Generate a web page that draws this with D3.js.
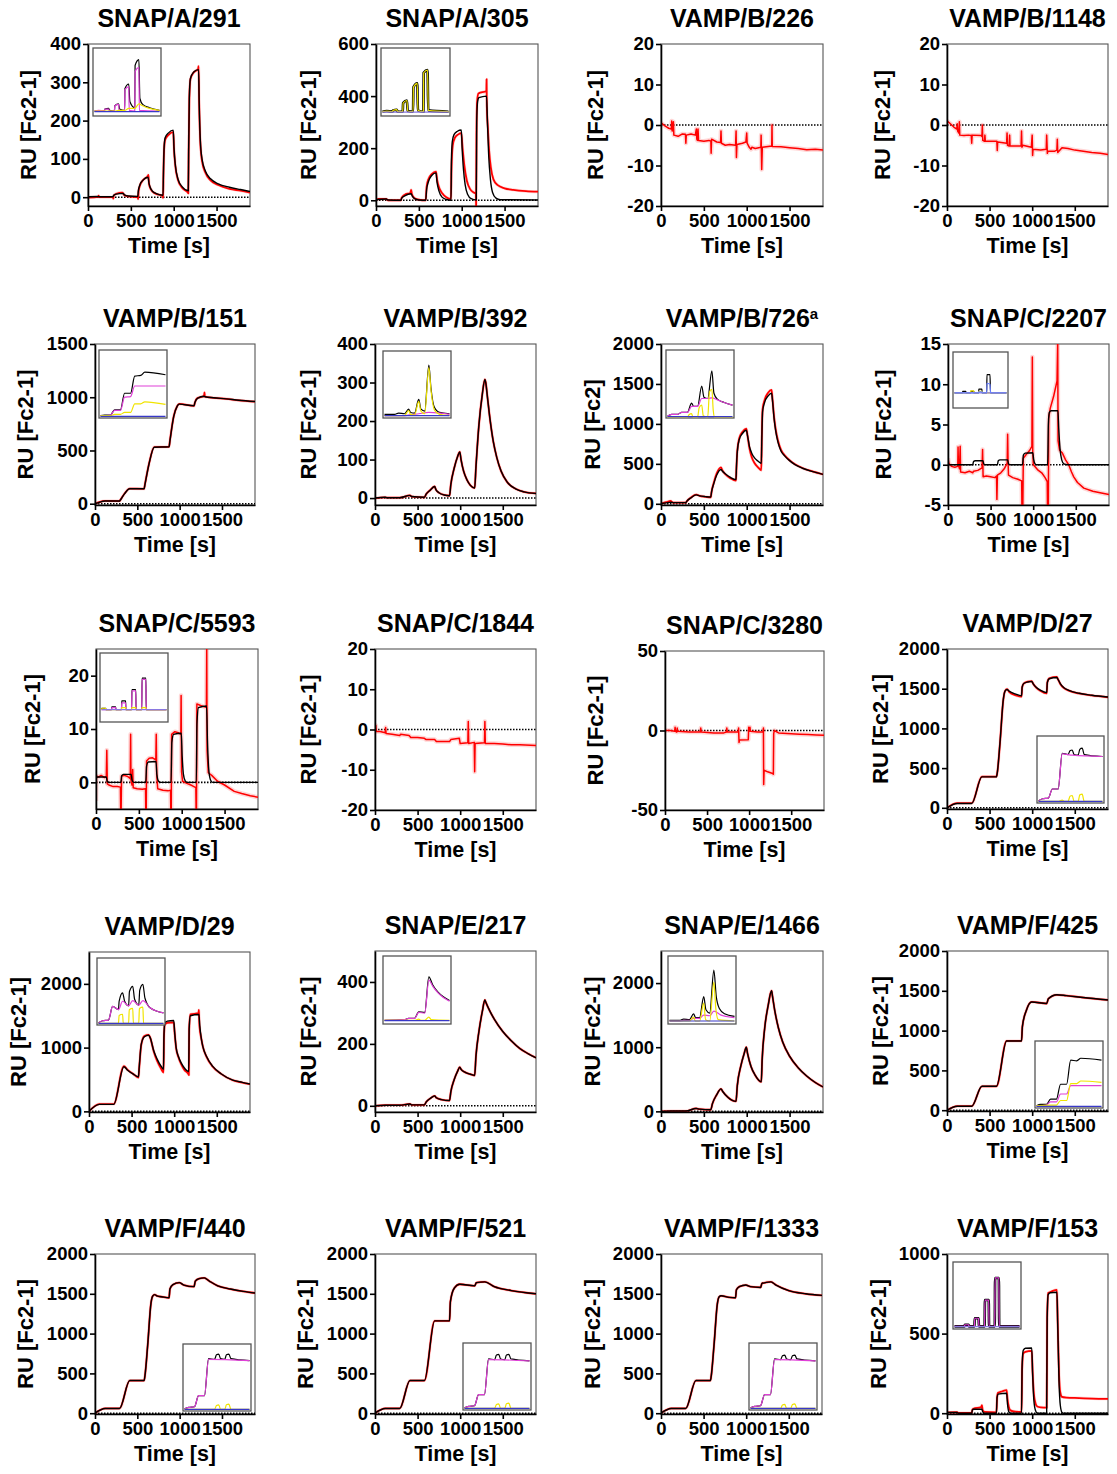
<!DOCTYPE html>
<html><head><meta charset="utf-8">
<script src="https://cdn.jsdelivr.net/npm/d3@7"></script>
<style>
body{margin:0;background:#fff}
svg{display:block}
text{font-family:"Liberation Sans",Arial,Helvetica,sans-serif;font-weight:bold;fill:#000}
</style>
</head><body>
<svg id="chart" width="1117" height="1474"></svg>
<script>
// ---- shared axis settings ----
const timeDomain = [0, 1890];
const timeTicks = [0, 500, 1000, 1500];

const titles = ["SNAP/A/291","SNAP/A/305","VAMP/B/226","VAMP/B/1148",
  "VAMP/B/151","VAMP/B/392","VAMP/B/726","SNAP/C/2207",
  "SNAP/C/5593","SNAP/C/1844","SNAP/C/3280","VAMP/D/27",
  "VAMP/D/29","SNAP/E/217","SNAP/E/1466","VAMP/F/425",
  "VAMP/F/440","VAMP/F/521","VAMP/F/1333","VAMP/F/153"];
const titleNotes = {6: "a"};
const yLabels = titles.map((t, i) => i === 6 ? "RU [Fc2]" : "RU [Fc2-1]");
const yDomains = [[-23,400],[-22,600],[-20,20],[-20,20],
  [-12,1500],[-18,400],[-15,2000],[-5,15],
  [-5,25],[-20,20],[-50,50],[-15,2000],
  [-10,2500],[-20,500],[-10,2500],[-10,2000],
  [-10,2000],[-10,2000],[-10,2000],[-5,1000]];
const yTicks = [[0,100,200,300,400],[0,200,400,600],[-20,-10,0,10,20],[-20,-10,0,10,20],
  [0,500,1000,1500],[0,100,200,300,400],[0,500,1000,1500,2000],[-5,0,5,10,15],
  [0,10,20],[-20,-10,0,10,20],[-50,0,50],[0,500,1000,1500,2000],
  [0,1000,2000],[0,200,400],[0,1000,2000],[0,500,1000,1500,2000],
  [0,500,1000,1500,2000],[0,500,1000,1500,2000],[0,500,1000,1500,2000],[0,500,1000]];

// ---- sensorgrams: [time s, RU] ----
const fitA291 = [[0,0],[10,1],[120,2],[130,1],[290,1],[300,5],[330,8],[410,10],[425,6],[470,3],[580,2],[588,18],[605,32],[640,44],[700,52],[712,36],[735,21],[780,11],[875,5],[880,60],[888,130],[900,155],[940,168],[995,175],[1003,130],[1020,82],[1050,47],[1100,27],[1170,17],[1174,120],[1182,260],[1195,310],[1230,326],[1290,333],[1297,250],[1310,150],[1330,100],[1370,68],[1430,48],[1520,35],[1650,26],[1780,20],[1890,15]];
const sensA291 = [[0,-1],[120,1],[125,4],[130,0],[290,0],[296,-4],[300,4],[330,9],[400,12],[410,10],[425,5],[470,2],[580,0],[585,-5],[590,15],[605,30],[640,44],[700,56],[705,58],[712,34],[735,20],[780,10],[870,3],[877,-2],[880,55],[888,125],[900,150],[940,163],[995,170],[1003,128],[1020,80],[1050,45],[1100,24],[1165,12],[1170,10],[1174,115],[1182,255],[1195,308],[1230,325],[1285,335],[1290,342],[1297,245],[1310,145],[1330,95],[1370,64],[1430,44],[1520,32],[1650,22],[1780,17],[1890,12]];

const fitA305 = [[0,0],[20,3],[120,5],[140,1],[290,0],[300,8],[340,18],[410,25],[425,15],[450,6],[500,1],[580,0],[590,40],[610,70],[650,95],[700,105],[712,70],[735,35],[770,12],[820,3],[875,0],[880,150],[890,225],[910,252],[950,265],[995,270],[1005,200],[1020,120],[1040,60],[1070,22],[1110,6],[1170,1],[1175,300],[1185,378],[1200,394],[1290,400],[1300,300],[1315,170],[1335,80],[1360,30],[1400,8],[1450,2],[1890,1]];
const sensA305 = [[0,0],[30,5],[120,5],[140,0],[290,0],[300,10],[340,22],[400,28],[410,40],[420,22],[450,8],[500,2],[580,0],[590,50],[610,80],[650,100],[700,110],[712,80],[735,50],[770,28],[820,12],[875,5],[880,110],[895,210],[920,240],[960,253],[995,258],[1010,200],[1030,135],[1060,75],[1100,42],[1140,30],[1165,25],[1168,-25],[1172,250],[1180,380],[1195,410],[1288,420],[1290,465],[1293,360],[1305,280],[1320,190],[1340,125],[1370,80],[1420,58],[1500,46],[1600,40],[1750,35],[1890,33]];

const sensB226 = [[0,0.5],[20,0.2],[50,-0.3],[90,-0.8],[120,-1],[125,1],[130,-1.5],[145,0.8],[150,-2.5],[200,-2.8],[250,-2.2],[285,-2.3],[290,-4.5],[295,-2.5],[350,-2.2],[400,-2.5],[412,-1],[418,-3.5],[425,-3.8],[432,-1],[438,-3.8],[500,-4],[560,-3.8],[582,-4],[585,-7],[590,-3.5],[650,-4.2],[695,-4.3],[700,-1.5],[705,-4.5],[750,-5],[800,-4.8],[870,-5],[876,-1.5],[880,-8],[886,-4.8],[950,-4.5],[990,-4.2],[1000,-2],[1005,-4.5],[1030,-5.5],[1050,-6],[1060,-5.5],[1100,-5.8],[1165,-5.5],[1168,-2.5],[1175,-11],[1182,-5.5],[1250,-5.3],[1292,-5.2],[1295,0],[1298,-5.3],[1400,-5.4],[1500,-5.6],[1600,-5.8],[1700,-6.1],[1800,-6],[1890,-6.2]];

const sensB1148 = [[0,1],[30,0.5],[80,-0.5],[115,-1],[120,0.3],[125,-1.5],[140,-2],[145,0.8],[150,-2.5],[200,-2.6],[250,-2.5],[285,-2.6],[290,-4.5],[295,-2.5],[400,-2.6],[410,-2.8],[415,0],[420,-3.8],[440,-4],[445,-2.5],[450,-4],[550,-4],[585,-4],[590,-6.3],[595,-4.2],[700,-4.5],[705,-2],[710,-5],[730,-5.2],[735,-2.5],[740,-5.2],[870,-5.2],[875,-1.5],[880,-5.5],[890,-5],[990,-5.5],[1000,-2.5],[1005,-7.5],[1010,-6],[1100,-6.2],[1165,-6],[1170,-2.5],[1178,-7],[1185,-6.5],[1260,-6.5],[1290,-6.2],[1295,-3.5],[1300,-6.8],[1350,-5.6],[1420,-5.8],[1500,-6.2],[1600,-6.5],[1700,-6.8],[1800,-7],[1890,-7.3]];

const fitB151 = [[0,0],[40,10],[120,25],[290,25],[300,35],[350,95],[410,140],[580,140],[590,180],[640,380],[700,530],[875,535],[885,590],[930,820],[970,915],[995,935],[1170,920],[1180,950],[1210,990],[1290,1010],[1300,1005],[1400,995],[1550,985],[1700,972],[1890,960]];
const sensB151 = [[0,0],[40,12],[120,26],[290,25],[300,36],[350,96],[410,142],[580,140],[590,182],[640,382],[700,532],[875,535],[885,592],[930,822],[970,915],[995,937],[1170,918],[1180,950],[1210,992],[1288,1012],[1293,1045],[1298,1005],[1400,995],[1550,985],[1700,970],[1890,958]];

const fitB392 = [[0,0],[120,2],[140,1],[290,1],[410,7],[430,4],[580,2],[600,10],[650,21],[700,30],[715,22],[750,14],[810,8],[875,6],[890,35],[930,78],[970,108],[995,120],[1010,100],[1040,70],[1080,47],[1120,33],[1170,26],[1185,80],[1220,190],[1260,270],[1290,308],[1300,300],[1320,262],[1350,205],[1390,145],[1430,105],[1480,70],[1550,42],[1650,24],[1750,16],[1890,12]];

const fitB726 = [[0,0],[60,12],[120,20],[140,15],[290,15],[300,30],[350,75],[410,112],[450,100],[520,90],[580,85],[590,150],[615,250],[650,360],[700,430],[715,410],[750,375],[810,330],[875,302],[880,450],[890,650],[913,805],[950,880],[995,920],[1010,850],[1031,722],[1060,630],[1091,575],[1130,535],[1170,505],[1176,800],[1185,1150],[1209,1270],[1250,1350],[1290,1385],[1300,1300],[1320,1060],[1340,900],[1366,765],[1400,660],[1445,597],[1500,540],[1563,490],[1650,445],[1760,405],[1890,368]];
const sensB726 = [[0,0],[60,20],[115,35],[125,25],[140,15],[290,15],[300,30],[350,78],[410,115],[450,100],[520,88],[580,80],[590,150],[615,260],[650,380],[700,455],[715,420],[750,370],[810,320],[875,290],[880,440],[890,660],[913,820],[950,900],[995,940],[1010,850],[1031,700],[1060,580],[1091,510],[1130,460],[1170,420],[1176,820],[1185,1180],[1209,1300],[1250,1390],[1290,1425],[1300,1320],[1320,1080],[1340,920],[1366,785],[1400,675],[1445,605],[1500,545],[1563,495],[1650,448],[1760,408],[1890,368]];

const fitC2207 = [[0,0],[290,0],[300,0.4],[320,0.5],[410,0.5],[420,0.1],[440,0],[580,0],[590,0.5],[610,0.6],[700,0.6],[710,0.15],[730,0],[875,0],[885,1.2],[905,1.45],[995,1.5],[1005,0.7],[1020,0.15],[1040,0],[1170,0],[1178,5],[1190,6.5],[1210,6.7],[1290,6.7],[1300,4.5],[1315,2],[1335,0.6],[1360,0.1],[1400,0],[1890,0]];
const sensC2207 = [[0,0.8],[10,0.2],[40,-0.2],[80,-0.3],[115,-0.2],[118,2.2],[122,0],[135,-0.5],[143,2.3],[148,-0.9],[200,-1],[250,-0.8],[290,-1],[300,-0.8],[350,-0.7],[400,-0.4],[406,1.9],[412,-1.5],[450,-1.4],[500,-1.5],[550,-1.6],[570,-1.4],[574,-4.3],[580,-1.3],[620,-1],[660,-0.5],[695,0.2],[700,3.8],[705,0.5],[710,-1.3],[760,-1.6],[820,-1.8],[865,-2],[868,-5.5],[878,-5.5],[884,0.8],[920,1.3],[960,1.8],[985,2.3],[990,13.4],[995,1.5],[1002,0],[1050,-0.6],[1100,-1],[1140,-1.6],[1165,-2.1],[1168,-5.5],[1178,-5.5],[1182,5.8],[1200,7],[1240,8.5],[1280,10.4],[1288,15.5],[1292,3],[1310,1.8],[1340,1.5],[1380,0.6],[1417,0],[1450,-0.9],[1476,-1.5],[1520,-2.2],[1594,-2.9],[1700,-3.3],[1800,-3.5],[1890,-3.7]];

const fitC5593 = [[0,0],[5,0.8],[20,1],[120,1],[130,0.2],[150,0],[290,0],[300,1.2],[320,1.5],[410,1.5],[420,0.5],[440,0],[580,0],[590,3],[610,3.8],[700,3.9],[710,1.5],[730,0.2],[750,0],[875,0],[885,7.5],[905,9],[995,9.2],[1005,5],[1020,1.5],[1040,0.3],[1060,0],[1170,0],[1178,11],[1195,14],[1290,14.3],[1300,8],[1315,2.5],[1335,0.5],[1360,0],[1890,0]];
const sensC5593 = [[0,-3.5],[5,1.2],[30,1],[60,1.3],[100,0.9],[120,1],[126,6],[132,-0.3],[150,-0.5],[200,-0.8],[250,-0.8],[285,-0.9],[288,-5.5],[293,-5.5],[298,1.2],[330,1.3],[370,1.1],[400,0.7],[404,9],[408,0.4],[420,-0.5],[428,2.4],[434,-1],[480,-1.2],[540,-1.3],[578,-1.2],[581,-5.5],[586,-5.5],[590,4],[620,4.5],[660,4.6],[698,4.2],[703,9],[708,1.5],[720,-1.2],[780,-1.5],[840,-1.6],[870,-1.5],[873,-5.5],[878,-5.5],[882,9],[920,9.5],[960,9.3],[990,9],[993,16.3],[998,2],[1010,0.2],[1060,-0.2],[1120,-0.6],[1165,-1],[1168,-5.5],[1172,-5.5],[1177,14.7],[1220,14.4],[1260,14.2],[1288,14],[1292,25.5],[1296,6],[1310,1.8],[1350,1.3],[1418,0.2],[1500,-0.5],[1613,-1.7],[1700,-2.1],[1800,-2.5],[1890,-2.8]];

const sensC1844 = [[0,0.5],[5,-0.5],[10,1],[15,-0.5],[60,-0.5],[120,-0.8],[125,0.5],[130,-1],[200,-1.2],[290,-1.5],[300,-1.2],[400,-1.5],[420,-2],[500,-2],[580,-2.2],[600,-2.5],[700,-2.5],[720,-3],[800,-3],[875,-3],[890,-2.5],[990,-2.2],[1000,-3.5],[1090,-3.3],[1095,2],[1100,-3.5],[1165,-3.2],[1170,-10.5],[1175,-3.5],[1285,-3.3],[1290,2],[1295,-3.5],[1400,-3.5],[1500,-3.6],[1600,-3.8],[1700,-3.8],[1890,-4]];

const sensC3280 = [[0,0],[60,0],[115,-0.5],[120,2],[125,-0.5],[140,-1],[145,1.5],[150,-0.5],[290,-1],[420,-1],[425,1.5],[430,-1],[580,-1.5],[700,-1.5],[730,-1],[735,1.5],[740,-1],[870,-1],[875,1.5],[880,-7.5],[885,-6],[990,-5.8],[995,2],[1000,-0.5],[1010,2],[1015,-0.5],[1100,-1],[1165,-1],[1170,1.5],[1173,-34],[1178,-25],[1220,-26],[1280,-27],[1288,-27.5],[1292,-2],[1300,0],[1350,-1.5],[1500,-2],[1600,-2.3],[1700,-2.5],[1800,-2.8],[1890,-3]];

const fitD27 = [[0,0],[120,55],[290,55],[410,390],[580,390],[590,440],[622,819],[661,1365],[681,1470],[705,1490],[730,1470],[800,1435],[875,1410],[882,1520],[900,1565],[950,1585],[995,1592],[1010,1565],[1050,1515],[1100,1478],[1170,1450],[1178,1580],[1200,1625],[1290,1642],[1300,1625],[1330,1565],[1370,1515],[1430,1478],[1550,1442],[1700,1418],[1890,1395]];
const sensD27 = [[0,0],[120,58],[290,58],[410,392],[580,392],[590,440],[622,815],[661,1360],[681,1470],[705,1495],[730,1460],[800,1420],[875,1400],[882,1515],[900,1565],[950,1590],[995,1595],[1010,1565],[1050,1510],[1100,1470],[1170,1440],[1178,1580],[1200,1630],[1290,1648],[1300,1625],[1330,1560],[1370,1510],[1430,1475],[1550,1440],[1700,1415],[1890,1392]];

const fitD29 = [[0,0],[120,110],[290,110],[410,700],[450,650],[520,585],[580,542],[590,700],[613,1050],[650,1170],[700,1195],[720,1150],[760,950],[800,820],[850,700],[875,660],[880,1200],[890,1390],[920,1415],[995,1425],[1005,1250],[1023,1000],[1050,860],[1082,760],[1120,680],[1170,625],[1176,1300],[1190,1500],[1290,1520],[1300,1350],[1320,1130],[1336,1020],[1380,860],[1453,705],[1550,590],[1688,490],[1800,455],[1890,430]];
const sensD29 = [[0,0],[120,115],[290,115],[410,710],[450,655],[520,585],[580,530],[590,690],[613,1040],[650,1180],[700,1200],[720,1150],[760,940],[800,790],[850,660],[875,610],[880,1150],[890,1360],[920,1390],[995,1395],[1005,1240],[1023,990],[1050,850],[1082,740],[1120,650],[1165,590],[1172,570],[1176,1290],[1190,1520],[1285,1540],[1290,1590],[1296,1350],[1320,1130],[1336,1020],[1380,855],[1453,700],[1550,588],[1688,488],[1800,452],[1890,428]];

const fitE217 = [[0,0],[120,2],[290,2],[410,6],[430,3],[580,3],[600,12],[650,24],[700,32],[720,26],[780,20],[875,17],[890,45],[930,85],[970,112],[995,125],[1010,118],[1060,108],[1120,102],[1170,98],[1185,160],[1220,240],[1260,305],[1290,342],[1300,335],[1350,305],[1400,280],[1500,240],[1600,210],[1700,185],[1800,168],[1890,155]];

const fitE1466 = [[0,0],[120,5],[290,5],[410,45],[450,35],[580,25],[600,120],[650,260],[700,350],[720,310],[780,220],[875,155],[890,400],[930,700],[970,900],[995,1000],[1010,900],[1050,700],[1100,560],[1170,460],[1180,800],[1210,1300],[1250,1650],[1290,1880],[1300,1800],[1330,1550],[1370,1300],[1420,1080],[1500,860],[1600,680],[1700,550],[1800,450],[1890,380]];

const fitF425 = [[0,0],[120,50],[290,50],[410,300],[580,300],[700,870],[875,870],[885,1050],[930,1250],[995,1360],[1170,1340],[1190,1400],[1290,1450],[1400,1440],[1600,1415],[1890,1385]];

const fitF440 = [[0,0],[120,60],[290,60],[410,410],[580,410],[590,470],[622,850],[661,1380],[681,1470],[705,1490],[730,1475],[800,1460],[875,1450],[885,1560],[920,1615],[995,1640],[1050,1610],[1170,1590],[1185,1660],[1230,1690],[1290,1700],[1350,1660],[1450,1600],[1600,1560],[1750,1530],[1890,1510]];

const fitF521 = [[0,0],[120,60],[290,60],[410,410],[580,410],[700,1160],[875,1160],[885,1400],[930,1570],[995,1620],[1170,1600],[1190,1640],[1290,1650],[1400,1590],[1600,1540],[1890,1500]];

const fitF1333 = [[0,0],[120,60],[290,60],[410,410],[580,410],[590,470],[622,850],[661,1370],[681,1460],[705,1475],[800,1455],[875,1450],[885,1550],[920,1590],[995,1610],[1050,1590],[1170,1580],[1185,1630],[1290,1650],[1350,1610],[1500,1540],[1700,1500],[1890,1480]];

const fitF153 = [[0,0],[5,4],[120,5],[130,0],[290,0],[298,20],[310,25],[410,25],[420,8],[440,0],[580,0],[588,100],[600,120],[700,125],[710,60],[725,10],[745,0],[875,0],[882,300],[895,395],[920,408],[995,410],[1005,250],[1020,80],[1040,15],[1060,0],[1170,0],[1176,600],[1188,745],[1210,757],[1290,760],[1300,550],[1315,200],[1330,50],[1350,5],[1370,0],[1890,0]];
const sensF153 = [[0,0],[5,5],[120,6],[130,2],[290,2],[298,22],[310,28],[400,38],[410,50],[418,20],[440,8],[580,5],[588,100],[600,128],[650,138],[700,145],[710,90],[725,40],[745,18],[800,10],[875,8],[882,280],[895,375],[920,385],[995,392],[1005,260],[1020,120],[1040,60],[1060,42],[1100,37],[1170,35],[1176,600],[1188,755],[1230,765],[1290,775],[1300,560],[1315,250],[1330,130],[1350,102],[1400,98],[1550,95],[1700,92],[1890,90]];

// ---- inset component curves (fraction of inset height) ----
const insA291Total = [[0,0.06],[290,0.06],[300,0.09],[410,0.1],[440,0.07],[580,0.06],[590,0.14],[700,0.17],[730,0.09],[875,0.07],[885,0.4],[995,0.47],[1030,0.2],[1170,0.11],[1180,0.75],[1290,0.84],[1320,0.25],[1400,0.16],[1600,0.11],[1890,0.07]];
const insA291Mag = [[0,0.06],[120,0.07],[290,0.06],[300,0.09],[410,0.09],[425,0.06],[580,0.06],[590,0.14],[700,0.16],[715,0.06],[875,0.06],[885,0.38],[995,0.43],[1010,0.07],[1170,0.06],[1180,0.66],[1290,0.72],[1305,0.07],[1890,0.06]];
const insA291Yel = [[0,0.06],[580,0.06],[700,0.07],[875,0.07],[995,0.1],[1170,0.1],[1290,0.17],[1400,0.14],[1600,0.1],[1890,0.07]];
const insA291Blue = [[0,0.05],[1890,0.05]];

const insA305Yel = [[0,0.05],[120,0.06],[290,0.05],[300,0.07],[410,0.08],[430,0.05],[580,0.05],[590,0.18],[700,0.22],[720,0.06],[875,0.05],[885,0.42],[995,0.48],[1015,0.07],[1170,0.05],[1180,0.64],[1290,0.68],[1310,0.07],[1890,0.05]];
const insA305Base = [[0,0.045],[1890,0.045]];

const insB151Total = [[0,0.02],[120,0.03],[290,0.03],[410,0.11],[580,0.11],[700,0.36],[875,0.36],[995,0.62],[1170,0.63],[1290,0.68],[1890,0.64]];
const insB151Mag = [[0,0.02],[290,0.03],[410,0.1],[580,0.1],[700,0.3],[875,0.31],[995,0.47],[1890,0.47]];
const insB151Yel = [[0,0.02],[290,0.02],[410,0.04],[580,0.04],[700,0.07],[875,0.07],[995,0.2],[1170,0.2],[1290,0.23],[1890,0.19]];
const insB151Blue = [[0,0.01],[1890,0.01]];

const insB392Total = [[0,0.04],[290,0.04],[410,0.06],[580,0.05],[700,0.12],[760,0.07],[875,0.06],[995,0.27],[1060,0.12],[1170,0.09],[1290,0.8],[1350,0.45],[1450,0.15],[1600,0.07],[1890,0.05]];
const insB392Mag = [[0,0.02],[580,0.02],[700,0.03],[995,0.05],[1290,0.07],[1890,0.04]];
const insB392Yel = [[0,0.02],[580,0.02],[700,0.1],[760,0.04],[875,0.03],[995,0.24],[1060,0.09],[1170,0.05],[1290,0.76],[1350,0.42],[1450,0.11],[1600,0.04],[1890,0.02]];
const insB392Blue = [[0,0.02],[1890,0.02]];

const insB726Total = [[0,0.01],[120,0.04],[290,0.04],[410,0.07],[580,0.07],[700,0.21],[760,0.16],[875,0.16],[995,0.47],[1060,0.3],[1170,0.28],[1290,0.7],[1350,0.36],[1450,0.27],[1650,0.22],[1890,0.18]];
const insB726Mag = [[0,0.01],[120,0.04],[290,0.04],[410,0.07],[580,0.07],[700,0.16],[875,0.16],[995,0.28],[1170,0.28],[1290,0.29],[1450,0.26],[1650,0.22],[1890,0.18]];
const insB726Yel = [[0,0],[580,0],[620,0.03],[700,0.05],[740,0],[875,0],[920,0.14],[995,0.18],[1040,0.02],[1170,0],[1220,0.38],[1290,0.42],[1330,0.1],[1370,0],[1890,0]];
const insB726Blue = [[0,0.005],[1890,0.005]];

const insC2207Total = [[0,0.26],[290,0.26],[300,0.29],[410,0.29],[420,0.26],[580,0.26],[590,0.29],[700,0.29],[710,0.26],[875,0.26],[885,0.33],[995,0.33],[1005,0.26],[1170,0.26],[1180,0.6],[1290,0.6],[1310,0.26],[1890,0.26]];
const insC2207Blue = [[0,0.26],[875,0.26],[885,0.28],[995,0.28],[1005,0.26],[1170,0.26],[1180,0.44],[1290,0.42],[1310,0.26],[1890,0.26]];
const insC2207Yel = [[0,0.26],[580,0.26],[590,0.3],[700,0.3],[710,0.26],[875,0.26],[885,0.29],[995,0.29],[1005,0.26],[1890,0.26]];
const insC2207Base = [[0,0.26],[1890,0.26]];

const insC5593Total = [[0,0.18],[10,0.19],[120,0.19],[130,0.17],[290,0.17],[300,0.21],[410,0.21],[420,0.17],[580,0.17],[590,0.3],[700,0.3],[710,0.17],[875,0.17],[885,0.47],[995,0.47],[1005,0.17],[1170,0.17],[1180,0.64],[1290,0.64],[1300,0.17],[1890,0.17]];
const insC5593Mag = [[0,0.17],[290,0.17],[300,0.2],[410,0.2],[420,0.17],[580,0.17],[590,0.27],[700,0.27],[710,0.17],[875,0.17],[885,0.45],[995,0.45],[1005,0.17],[1170,0.17],[1180,0.62],[1290,0.62],[1300,0.17],[1890,0.17]];
const insC5593Yel = [[0,0.17],[10,0.19],[120,0.19],[130,0.17],[580,0.17],[590,0.2],[700,0.2],[710,0.17],[875,0.17],[885,0.2],[995,0.2],[1005,0.17],[1170,0.17],[1180,0.2],[1290,0.2],[1300,0.17],[1890,0.17]];
const insC5593Base = [[0,0.17],[1890,0.17]];

const insD27Total = [[0,0.02],[120,0.05],[290,0.06],[410,0.2],[580,0.2],[700,0.75],[875,0.73],[930,0.79],[995,0.8],[1050,0.73],[1170,0.72],[1220,0.81],[1290,0.83],[1350,0.73],[1890,0.7]];
const insD27Mag = [[0,0.02],[120,0.05],[290,0.06],[410,0.2],[580,0.2],[700,0.74],[1000,0.72],[1890,0.7]];
const insD27Yel = [[0,0.01],[580,0.01],[700,0.03],[760,0.01],[875,0.01],[930,0.09],[995,0.1],[1050,0.01],[1170,0.01],[1220,0.11],[1290,0.12],[1350,0.01],[1890,0.01]];
const insD27Blue = [[0,0.01],[1890,0.01]];

const insD29Total = [[0,0.02],[120,0.05],[290,0.06],[410,0.27],[580,0.22],[600,0.35],[700,0.48],[760,0.35],[875,0.28],[900,0.5],[995,0.58],[1050,0.38],[1170,0.29],[1200,0.52],[1290,0.61],[1350,0.4],[1500,0.25],[1890,0.17]];
const insD29Mag = [[0,0.02],[120,0.05],[290,0.06],[410,0.27],[580,0.22],[700,0.35],[875,0.28],[995,0.36],[1170,0.29],[1290,0.36],[1500,0.25],[1890,0.17]];
const insD29Yel = [[0,0.01],[580,0.01],[600,0.13],[700,0.15],[720,0.01],[875,0.01],[895,0.22],[995,0.24],[1015,0.01],[1170,0.01],[1190,0.24],[1290,0.26],[1310,0.01],[1890,0.01]];
const insD29Blue = [[0,0.01],[1890,0.01]];

const insE217Total = [[0,0.04],[580,0.05],[700,0.07],[875,0.07],[995,0.17],[1170,0.16],[1290,0.7],[1400,0.58],[1550,0.47],[1700,0.4],[1890,0.34]];
const insE217Mag = [[0,0.04],[580,0.05],[700,0.07],[875,0.07],[995,0.16],[1170,0.15],[1290,0.65],[1400,0.56],[1550,0.46],[1700,0.39],[1890,0.33]];
const insE217Yel = [[0,0.04],[875,0.04],[995,0.06],[1060,0.04],[1170,0.04],[1290,0.09],[1360,0.05],[1890,0.04]];
const insE217Blue = [[0,0.035],[1890,0.035]];

const insE1466Total = [[0,0.04],[290,0.04],[410,0.06],[580,0.05],[700,0.14],[760,0.08],[875,0.08],[995,0.4],[1060,0.2],[1170,0.15],[1290,0.8],[1360,0.4],[1450,0.22],[1600,0.14],[1890,0.1]];
const insE1466Mag = [[0,0.03],[290,0.03],[410,0.04],[580,0.04],[700,0.07],[875,0.07],[995,0.12],[1170,0.11],[1290,0.18],[1500,0.12],[1890,0.08]];
const insE1466Yel = [[0,0.03],[580,0.03],[700,0.09],[750,0.03],[875,0.03],[995,0.3],[1050,0.05],[1170,0.03],[1290,0.62],[1350,0.2],[1420,0.05],[1890,0.03]];
const insE1466Blue = [[0,0.03],[1890,0.03]];

const insF425Total = [[0,0.02],[120,0.04],[290,0.04],[410,0.12],[580,0.12],[700,0.35],[875,0.35],[995,0.72],[1170,0.71],[1290,0.75],[1890,0.72]];
const insF425Mag = [[0,0.02],[290,0.03],[410,0.08],[580,0.08],[700,0.2],[875,0.2],[995,0.33],[1890,0.33]];
const insF425Yel = [[0,0.02],[410,0.03],[580,0.03],[700,0.1],[875,0.1],[995,0.36],[1170,0.36],[1290,0.4],[1890,0.38]];
const insF425Blue = [[0,0.01],[1890,0.01]];

const insF440Total = [[0,0.02],[120,0.04],[290,0.05],[410,0.22],[580,0.22],[700,0.79],[875,0.78],[930,0.85],[995,0.86],[1050,0.79],[1170,0.78],[1220,0.85],[1290,0.86],[1350,0.79],[1890,0.76]];
const insF440Mag = [[0,0.02],[120,0.04],[290,0.05],[410,0.22],[580,0.22],[700,0.78],[1890,0.76]];
const insF440Yel = [[0,0.01],[875,0.01],[930,0.07],[995,0.08],[1050,0.01],[1170,0.01],[1220,0.08],[1290,0.09],[1350,0.01],[1890,0.01]];
const insF440Blue = [[0,0.01],[1890,0.01]];

const insF521Total = [[0,0.02],[120,0.04],[290,0.05],[410,0.22],[580,0.22],[700,0.77],[875,0.76],[930,0.83],[995,0.84],[1050,0.77],[1170,0.76],[1220,0.83],[1290,0.84],[1350,0.77],[1890,0.74]];
const insF521Mag = [[0,0.02],[120,0.04],[290,0.05],[410,0.22],[580,0.22],[700,0.76],[1890,0.74]];
const insF521Yel = [[0,0.01],[875,0.01],[930,0.07],[995,0.08],[1050,0.01],[1170,0.01],[1220,0.08],[1290,0.09],[1350,0.01],[1890,0.01]];
const insF521Blue = [[0,0.01],[1890,0.01]];

const insF1333Total = [[0,0.02],[120,0.04],[290,0.05],[410,0.22],[580,0.22],[700,0.77],[875,0.76],[930,0.82],[995,0.83],[1050,0.77],[1170,0.76],[1220,0.82],[1290,0.83],[1350,0.77],[1890,0.74]];
const insF1333Mag = [[0,0.02],[120,0.04],[290,0.05],[410,0.22],[580,0.22],[700,0.76],[1890,0.74]];
const insF1333Yel = [[0,0.01],[875,0.01],[930,0.06],[995,0.07],[1050,0.01],[1170,0.01],[1220,0.07],[1290,0.08],[1350,0.01],[1890,0.01]];
const insF1333Blue = [[0,0.01],[1890,0.01]];

const insF153Mag = [[0,0.025],[290,0.025],[300,0.05],[410,0.05],[420,0.025],[580,0.025],[590,0.15],[700,0.15],[710,0.025],[875,0.025],[885,0.43],[995,0.43],[1005,0.025],[1170,0.025],[1180,0.77],[1290,0.77],[1300,0.025],[1890,0.025]];
const insF153Base = [[0,0.022],[1890,0.022]];

// ---- page layout: plot frame [left, top, width, height, y-title centre x] and inset boxes ----
const frames = [
  [88,44,162,162,28],[376,44,162,162,308],[661,44,162,162,595],[947,44,161,162,882],
  [95,344,160,161,25],[375,344,161,161,308],[661,344,162,161,592],[948,344,161,161,883],
  [96,649,162,160,32],[375,649,161,161,308],[665,651,159,159,595],[947,649,161,160,880],
  [89,952,161,160,18],[375,951,161,161,308],[661,951,162,161,592],[947,951,161,160,880],
  [95,1254,160,160,25],[375,1254,161,160,305],[661,1254,161,160,592],[947,1254,161,160,878]];
const insetBoxes = {0:[93,48,68,68],1:[381,48,69,68],4:[99,350,68,68],5:[383,351,68,67],6:[666,350,68,68],
  7:[953,352,55,56],8:[100,653,68,69],11:[1037,736,67,67],12:[97,958,68,67],13:[383,956,68,68],
  14:[668,956,68,68],15:[1035,1041,68,67],16:[183,1344,68,67],17:[463,1343,68,67],18:[749,1343,68,67],19:[953,1262,68,67]};

const C = {black:"#000", mag:"#e040d8", yel:"#f0e400", blue:"#3838c8", lav:"#8a78e0", red:"#ff0000"};

const panels = [
  {fit: fitA291, sens: sensA291, inset: [[insA291Total,C.black],[insA291Mag,C.mag],[insA291Yel,C.yel],[insA291Blue,C.blue]]},
  {fit: fitA305, sens: sensA305, inset: [[insA305Yel,C.black,2.6],[insA305Yel,C.yel],[insA305Base,C.lav]]},
  {sens: sensB226, noisy: true},
  {sens: sensB1148, noisy: true},
  {fit: fitB151, sens: sensB151, inset: [[insB151Total,C.black],[insB151Mag,C.mag],[insB151Yel,C.yel],[insB151Blue,C.blue]]},
  {fit: fitB392, sens: fitB392, inset: [[insB392Total,C.black],[insB392Mag,C.mag],[insB392Yel,C.yel],[insB392Blue,C.blue]]},
  {fit: fitB726, sens: sensB726, inset: [[insB726Total,C.black],[insB726Mag,C.mag],[insB726Yel,C.yel],[insB726Blue,C.blue]]},
  {fit: fitC2207, sens: sensC2207, noisy: true, inset: [[insC2207Total,C.black],[insC2207Yel,C.yel],[insC2207Base,C.lav],[insC2207Blue,"#6a80ff"]]},
  {fit: fitC5593, sens: sensC5593, noisy: true, inset: [[insC5593Total,C.black],[insC5593Mag,C.mag],[insC5593Yel,C.yel],[insC5593Base,C.lav]]},
  {sens: sensC1844, noisy: true},
  {sens: sensC3280, noisy: true},
  {fit: fitD27, sens: sensD27, inset: [[insD27Total,C.black],[insD27Mag,C.mag],[insD27Yel,C.yel],[insD27Blue,C.blue]]},
  {fit: fitD29, sens: sensD29, inset: [[insD29Total,C.black],[insD29Mag,C.mag],[insD29Yel,C.yel],[insD29Blue,C.blue]]},
  {fit: fitE217, sens: fitE217, inset: [[insE217Total,C.black],[insE217Mag,C.mag],[insE217Yel,C.yel],[insE217Blue,C.blue]]},
  {fit: fitE1466, sens: fitE1466, inset: [[insE1466Total,C.black],[insE1466Mag,C.mag],[insE1466Yel,C.yel],[insE1466Blue,C.blue]]},
  {fit: fitF425, sens: fitF425, inset: [[insF425Total,C.black],[insF425Mag,C.mag],[insF425Yel,C.yel],[insF425Blue,C.blue]]},
  {fit: fitF440, sens: fitF440, inset: [[insF440Total,C.black],[insF440Mag,C.mag],[insF440Yel,C.yel],[insF440Blue,C.blue]]},
  {fit: fitF521, sens: fitF521, inset: [[insF521Total,C.black],[insF521Mag,C.mag],[insF521Yel,C.yel],[insF521Blue,C.blue]]},
  {fit: fitF1333, sens: fitF1333, inset: [[insF1333Total,C.black],[insF1333Mag,C.mag],[insF1333Yel,C.yel],[insF1333Blue,C.blue]]},
  {fit: fitF153, sens: sensF153, inset: [[insF153Mag,C.black,2.6],[insF153Mag,C.mag],[insF153Base,C.lav]]}
];

const svg = d3.select("#chart");
svg.append("rect").attr("width",1117).attr("height",1474).attr("fill","#fff");

panels.forEach((p, i) => {
  const [left, top, w, h, labelX] = frames[i];
  const g = svg.append("g").attr("transform", `translate(${left},${top})`);
  const x = d3.scaleLinear().domain(timeDomain).range([0, w]);
  const y = d3.scaleLinear().domain(yDomains[i]).range([h, 0]);

  g.append("clipPath").attr("id", `clip${i}`)
    .append("rect").attr("width", w).attr("height", h);

  g.append("rect").attr("width", w).attr("height", h)
    .attr("fill", "none").attr("stroke", "#555").attr("stroke-width", 1.1);

  const plot = g.append("g").attr("clip-path", `url(#clip${i})`);
  // zero reference
  plot.append("line").attr("x1", 0).attr("x2", w).attr("y1", y(0)).attr("y2", y(0))
    .attr("stroke", "#000").attr("stroke-width", 1.6).attr("stroke-dasharray", "1.5,1.5");

  const line = d3.line().x(d => x(d[0])).y(d => y(d[1]))
    .curve(p.noisy ? d3.curveLinear : d3.curveMonotoneX);

  if (p.sens) {
    plot.append("path").datum(p.sens).attr("d", line).attr("fill", "none")
      .attr("stroke", "rgba(255,70,70,0.22)").attr("stroke-width", p.noisy ? 4.5 : 3)
      .attr("stroke-linejoin", "round");
    plot.append("path").datum(p.sens).attr("d", line).attr("fill", "none")
      .attr("stroke", C.red).attr("stroke-width", p.noisy ? 1.5 : 1.8).attr("stroke-linejoin", "round");
  }
  if (p.fit) {
    const fitLine = d3.line().x(d => x(d[0])).y(d => y(d[1])).curve(d3.curveMonotoneX);
    plot.append("path").datum(p.fit).attr("d", fitLine).attr("fill", "none")
      .attr("stroke", C.black).attr("stroke-width", 1.4).attr("stroke-linejoin", "round");
  }

  // axes
  const ya = g.append("g").call(d3.axisLeft(y).tickValues(yTicks[i]).tickFormat(d => String(d))
    .tickSize(5).tickSizeOuter(0).tickPadding(2));
  const xa = g.append("g").attr("transform", `translate(0,${h})`)
    .call(d3.axisBottom(x).tickValues(timeTicks).tickFormat(d => String(d))
      .tickSize(5).tickSizeOuter(0).tickPadding(3));
  [ya, xa].forEach(a => {
    a.select(".domain").attr("stroke", "#000").attr("stroke-width", 1.6);
    a.selectAll(".tick line").attr("stroke", "#000").attr("stroke-width", 1.6);
    a.selectAll("text").attr("font-size", 18.5).attr("fill", "#000")
      .style("font-family", '"Liberation Sans", Arial, sans-serif').style("font-weight", "bold");
  });

  // titles
  const t = g.append("text").attr("x", w / 2).attr("y", -17).attr("text-anchor", "middle")
    .attr("font-size", 25).text(titles[i]);
  if (titleNotes[i]) t.append("tspan").attr("baseline-shift", "super").attr("font-size", 15).text(titleNotes[i]);
  g.append("text").attr("x", w / 2).attr("y", h + 47).attr("text-anchor", "middle")
    .attr("font-size", 21.5).text("Time [s]");
  g.append("text").attr("transform", `translate(${labelX - left},${h / 2}) rotate(-90)`)
    .attr("dy", "0.36em").attr("text-anchor", "middle").attr("font-size", 22).text(yLabels[i]);

  // inset with fitted components
  if (p.inset) {
    const [ix, iy, iw, ih] = insetBoxes[i];
    const gi = svg.append("g").attr("transform", `translate(${ix},${iy})`);
    gi.append("rect").attr("width", iw).attr("height", ih).attr("fill", "#fff")
      .attr("stroke", "#555").attr("stroke-width", 1.3);
    const sx = d3.scaleLinear().domain(timeDomain).range([1.5, iw - 1.5]);
    const sy = d3.scaleLinear().domain([0, 1]).range([ih - 1, 1]);
    const il = d3.line().x(d => sx(d[0])).y(d => sy(d[1])).curve(d3.curveMonotoneX);
    p.inset.forEach(([data, color, width]) => {
      gi.append("path").datum(data).attr("d", il).attr("fill", "none")
        .attr("stroke", color).attr("stroke-width", width || 1.2);
    });
  }
});
</script>
</body></html>
